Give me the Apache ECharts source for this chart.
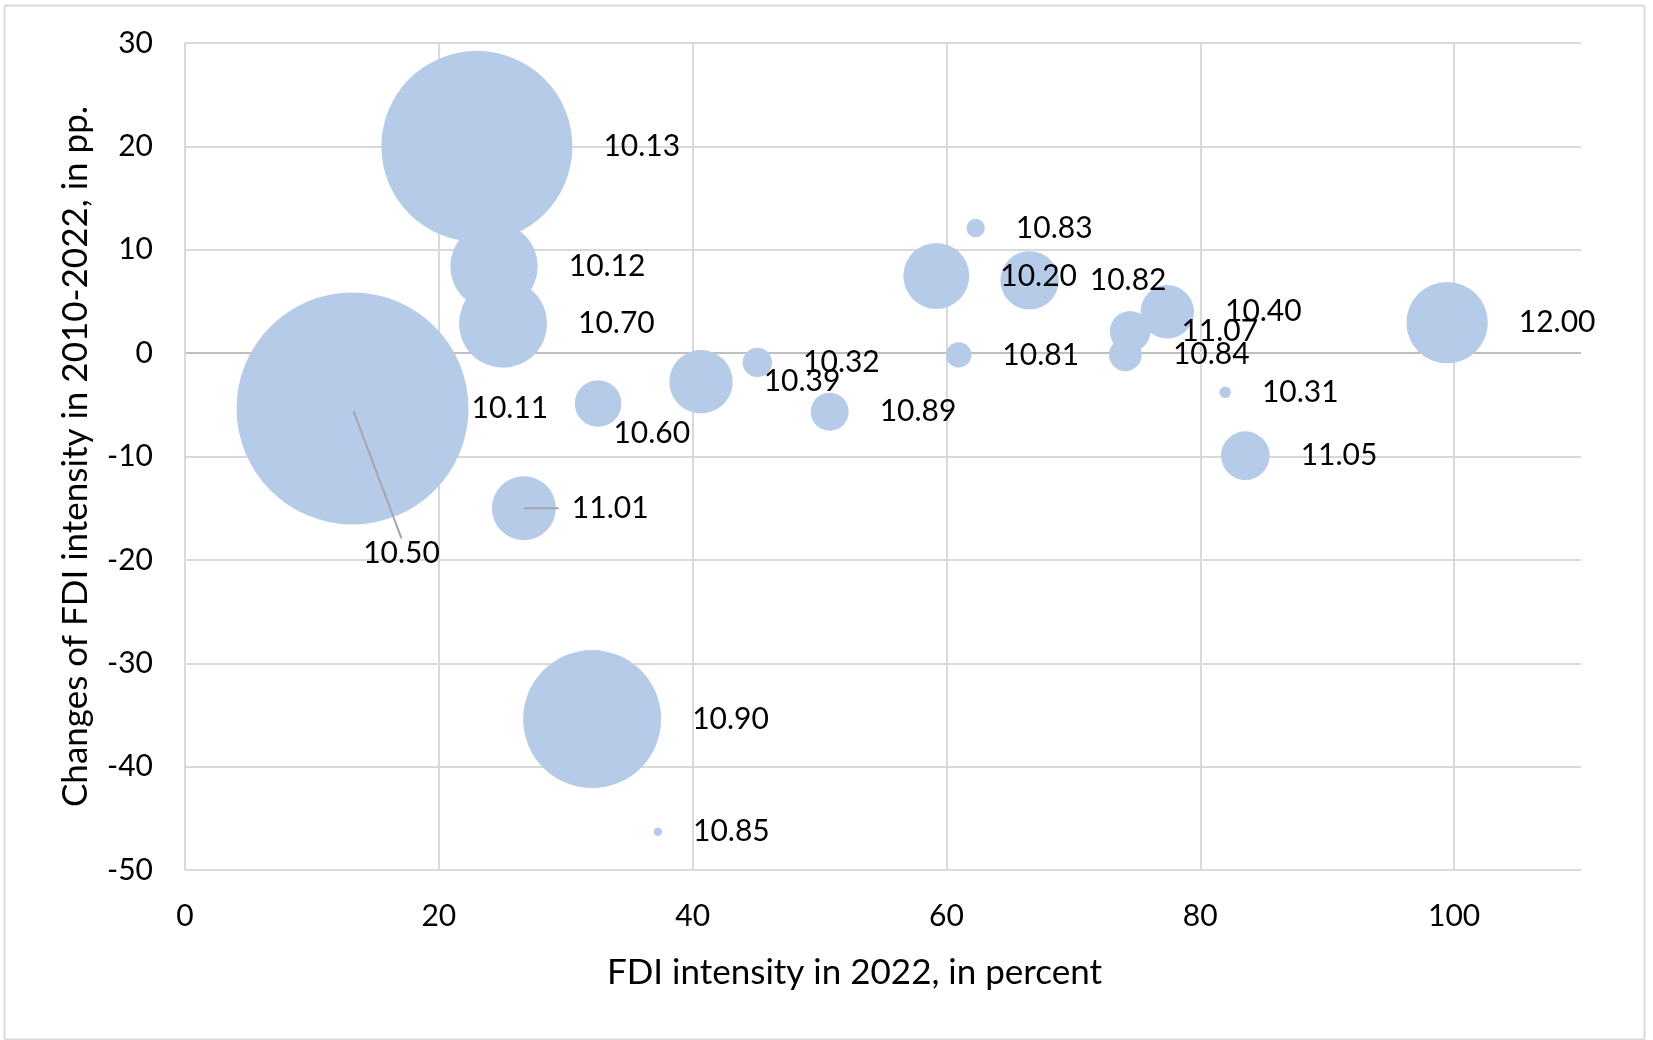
<!DOCTYPE html>
<html>
<head>
<meta charset="utf-8">
<script src="https://cdn.jsdelivr.net/npm/echarts@6/dist/echarts.min.js"></script>
<style>html,body{margin:0;padding:0;background:#fff}#c{width:1653px;height:1040px}</style>
</head>
<body>
<div id="c"></div>
<script>
// Industry codes (bubble labels)
const labels = ['10.11','10.50','10.13','10.12','10.70','11.01','10.60','10.90','10.85','10.39','10.32',
                '10.89','10.83','10.20','10.82','10.81','11.07','10.40','10.84','10.31','11.05','12.00'];
// FDI intensity in 2022, in percent (x)
const fdiIntensity2022 = [13.2, 13.2, 23.0, 24.35, 25.06, 26.7, 32.55, 32.08, 37.26, 40.66, 45.1,
                          50.8, 62.3, 59.2, 66.55, 60.96, 74.47, 77.4, 74.1, 81.96, 83.55, 99.45];
// Changes of FDI intensity 2010-2022, in pp. (y)
const fdiChange = [-5.35, -5.35, 20.0, 8.4, 2.85, -15.0, -4.87, -35.4, -46.3, -2.77, -0.9,
                   -5.67, 12.1, 7.47, 7.04, -0.17, 2.1, 4.0, -0.15, -3.79, -9.92, 2.95];
// Bubble size variable (relative)
const bubbleSize = [100, 0.07, 67.8, 14.2, 14.4, 7.6, 4.03, 35.4, 0.13, 7.47, 1.61,
                    2.68, 0.63, 8.09, 6.34, 1.20, 3.06, 5.30, 2.02, 0.25, 4.39, 12.3];
// Axis ranges / tick steps
const xAxisRange = [0, 110, 20];
const yAxisRange = [-50, 30, 10];

const FONT = 'Lato';
const FS = 30;
const FS_TITLE = 35;
const BUBBLE = '#b6cbe8';
const MAX_D = 232;
const maxSize = Math.max(...bubbleSize);

const LEADER = '10.50';
const allItems = labels.map((name, i) => {
  const item = { name: name, value: [fdiIntensity2022[i], fdiChange[i], bubbleSize[i]] };
  if (name === '10.11') item.label = { distance: 3 };
  if (name === '11.01') item.label = {
    position: ['50%', '50%'], align: 'left', verticalAlign: 'middle', distance: 0,
    formatter: '{ln| }{t|{b}}',
    rich: {
      ln: { width: 35, height: 2, backgroundColor: '#a6a6a6', fontSize: 2, lineHeight: 2 },
      t: { fontFamily: FONT, fontSize: FS, color: '#000', padding: [0, 0, 0, 13] }
    }
  };
  if (name === LEADER) {
    item.label = { position: 'inside' };
    item.labelLine = { show: true, length2: 0, lineStyle: { color: '#a6a6a6', width: 2 } };
  }
  return item;
});
const mainData = allItems.filter(d => d.name !== LEADER);
const leaderData = allItems.filter(d => d.name === LEADER);

const labelShift = { '10.60': [-39, 30], '10.50': [49, 145] };

const baseSeries = {
  type: 'scatter',
  symbol: 'circle',
  symbolSize: v => MAX_D * Math.sqrt(v[2] / maxSize),
  itemStyle: { color: BUBBLE, opacity: 1 },
  emphasis: { disabled: true },
  silent: true,
  label: {
    show: true, position: 'right', distance: 31, formatter: '{b}',
    color: '#000', fontFamily: FONT, fontSize: FS
  },
  labelLine: { show: false }
};

const chart = echarts.init(document.getElementById('c'), null, { renderer: 'canvas' });
chart.setOption({
  animation: false,
  backgroundColor: '#fff',
  graphic: [{
    type: 'rect', left: 2, top: 3, shape: { width: 1640, height: 1034, r: 2 },
    style: { fill: 'none', stroke: '#d9d9d9', lineWidth: 2 }, silent: true, z: -1
  }],
  grid: { left: 185, right: 72, top: 43, bottom: 170 },
  xAxis: {
    type: 'value', min: xAxisRange[0], max: xAxisRange[1], interval: xAxisRange[2],
    axisLine: { show: false }, axisTick: { show: false },
    axisLabel: { color: '#000', fontFamily: FONT, fontSize: FS, margin: 31, showMaxLabel: false },
    splitLine: { show: true, showMaxLine: false, lineStyle: { color: '#d9d9d9', width: 2 } },
    name: 'FDI intensity in 2022, in percent', nameLocation: 'middle', nameGap: 85,
    nameTextStyle: { color: '#000', fontFamily: FONT, fontSize: FS_TITLE, padding: [0, 57, 0, 0] }
  },
  yAxis: {
    type: 'value', min: yAxisRange[0], max: yAxisRange[1], interval: yAxisRange[2],
    axisLine: { show: false }, axisTick: { show: false },
    axisLabel: { color: '#000', fontFamily: FONT, fontSize: FS, margin: 32 },
    splitLine: { show: true, lineStyle: { color: ['#d9d9d9','#d9d9d9','#d9d9d9','#d9d9d9','#d9d9d9','#bfbfbf','#d9d9d9','#d9d9d9','#d9d9d9'], width: 2 } },
    name: 'Changes of FDI intensity in 2010-2022, in pp.', nameLocation: 'middle', nameGap: 92, nameRotate: 90,
    nameTextStyle: { color: '#000', fontFamily: FONT, fontSize: FS_TITLE }
  },
  series: [
    Object.assign({}, baseSeries, {
      z: 2, data: mainData,
      labelLayout: p => { const s = labelShift[mainData[p.dataIndex].name]; return s ? { dx: s[0], dy: s[1] } : {}; }
    }),
    Object.assign({}, baseSeries, {
      z: 5, data: leaderData,
      labelLayout: p => { const s = labelShift[leaderData[p.dataIndex].name]; return s ? { dx: s[0], dy: s[1] } : {}; }
    })
  ]
});
</script>
</body>
</html>
